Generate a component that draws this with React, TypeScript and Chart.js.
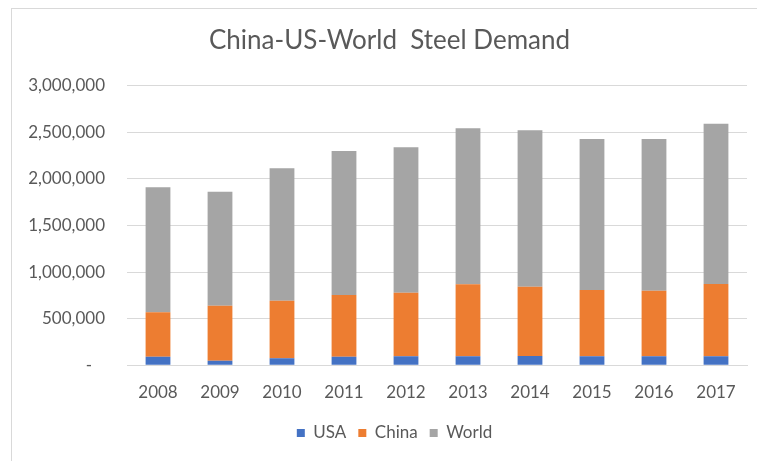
import React, { useEffect, useRef } from "react";
import { Chart, registerables } from "chart.js";

Chart.register(...registerables);

const years = ["2008", "2009", "2010", "2011", "2012", "2013", "2014", "2015", "2016", "2017"];
const usaDemand = [92000, 50000, 75000, 92000, 96000, 96000, 100000, 96000, 96000, 98000];
const chinaDemand = [477000, 590000, 618000, 662000, 683000, 773000, 743000, 712000, 704000, 774000];
const worldDemand = [1341000, 1223000, 1421000, 1545000, 1560000, 1674000, 1678000, 1620000, 1628000, 1720000];

const yMin = 0;
const yMax = 3000000;
const yStep = 500000;

const TEXT = "#595959";
const FONT = "Lato, 'Open Sans', sans-serif";

// Excel centres title/legend over the whole chart object, which is slightly wider than the view
const shiftPlugin = {
  id: "centerShift",
  afterLayout(chart: any) {
    const t = chart.titleBlock;
    if (t) {
      t.left += 6;
      t.right += 6;
    }
    const l = chart.legend;
    if (l) {
      l.left += 11;
      l.right += 11;
    }
  },
};

export default function App() {
  const ref = useRef<HTMLCanvasElement | null>(null);

  useEffect(() => {
    if (!ref.current) return;
    const chart = new Chart(ref.current, {
      type: "bar",
      data: {
        labels: years,
        datasets: [
          { label: "USA", data: usaDemand, backgroundColor: "#4472C4" },
          { label: "China", data: chinaDemand, backgroundColor: "#ED7D31" },
          { label: "World", data: worldDemand, backgroundColor: "#A5A5A5" },
        ],
      },
      plugins: [shiftPlugin],
      options: {
        responsive: false,
        animation: false,
        layout: { padding: { left: 20, right: 10, top: 0, bottom: 9.5 } },
        datasets: {
          bar: { categoryPercentage: 1, barPercentage: 0.4 },
        },
        plugins: {
          title: {
            display: true,
            text: "China-US-World  Steel Demand",
            color: TEXT,
            font: { family: FONT, size: 26, weight: "normal", lineHeight: 1.2 },
            padding: { top: 25.4, bottom: 29.1 },
          },
          legend: {
            position: "bottom",
            labels: {
              color: TEXT,
              font: { family: FONT, size: 17 },
              boxWidth: 8,
              boxHeight: 8,
              padding: 12,
            },
          },
          tooltip: { enabled: false },
        },
        scales: {
          x: {
            stacked: true,
            grid: { display: false, drawTicks: false },
            border: { display: true, color: "#D9D9D9" },
            ticks: { color: TEXT, font: { family: FONT, size: 17 }, padding: 17.5 },
            afterFit: (s: any) => {
              s.height = 47.2;
            },
          },
          y: {
            stacked: true,
            min: yMin,
            max: yMax,
            grid: { color: "#D9D9D9", drawTicks: false },
            border: { display: false },
            ticks: {
              stepSize: yStep,
              color: TEXT,
              padding: 22,
              font: { family: FONT, size: 17 },
              callback: (v: any) => (Number(v) === 0 ? "-   " : Number(v).toLocaleString("en-US")),
            },
            afterFit: (s: any) => {
              s.width = 107;
            },
          },
        },
      },
    });
    return () => chart.destroy();
  }, []);

  return (
    <div style={{ position: "absolute", left: 0, top: 0, width: 757, height: 461, background: "#fff" }}>
      <canvas ref={ref} width={757} height={461} style={{ display: "block" }} />
      <div
        style={{
          position: "absolute",
          left: 11,
          top: 8,
          width: 746,
          height: 453,
          borderLeft: "1px solid #D9D9D9",
          borderTop: "1px solid #D9D9D9",
          pointerEvents: "none",
        }}
      />
    </div>
  );
}
